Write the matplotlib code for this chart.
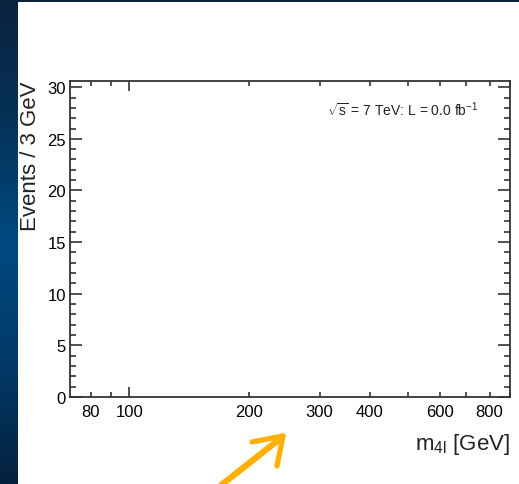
import numpy as np
import matplotlib
matplotlib.use('Agg')
import matplotlib.pyplot as plt
from matplotlib.colors import LinearSegmentedColormap
from matplotlib.lines import Line2D
from matplotlib.ticker import FixedLocator, FixedFormatter, MultipleLocator

plt.rcParams['font.family'] = ['Liberation Sans', 'DejaVu Sans']
plt.rcParams['mathtext.fontset'] = 'custom'
plt.rcParams['mathtext.rm'] = 'Liberation Sans'
plt.rcParams['mathtext.it'] = 'Liberation Sans:italic'
plt.rcParams['mathtext.sf'] = 'Liberation Sans'

# ---- data: empty histogram (no events yet)
m4l_events = []              # no candidates recorded
sqrt_s = 7                   # TeV
lumi = 0.0                   # fb^-1
bin_width = 3                # GeV

x_range = [71, 900]
y_range = [0, 30.6]
x_major = [100]
x_minor = [80, 90, 200, 300, 400, 500, 600, 700, 800, 900]
x_label_vals = [80, 100, 200, 300, 400, 600, 800]
y_major = [0, 5, 10, 15, 20, 25, 30]

W, H = 519, 485
fig = plt.figure(figsize=(W / 100, H / 100), dpi=100, facecolor='white')

# slide background: dark blue strip on the left and thin band on top
bg = fig.add_axes([0, 0, 18 / W, 1])
grad = LinearSegmentedColormap.from_list(
    'slide', ['#0c2340', '#053258', '#004a80', '#023a68', '#04213d'])
bg.imshow(np.linspace(0, 1, 256).reshape(-1, 1), cmap=grad, aspect='auto')
bg.set_axis_off()
top = fig.add_axes([0, 1 - 3 / H, 1, 3 / H])
top.set_facecolor('#0b223d')
top.set_xticks([]); top.set_yticks([])
for s in top.spines.values():
    s.set_visible(False)

ax = fig.add_axes([70 / W, 1 - 398 / H, 440 / W, 316 / H])
if len(m4l_events):
    ax.hist(m4l_events, bins=np.arange(x_range[0], x_range[1], bin_width),
            histtype='step', color='k')
ax.set_xscale('log')
ax.set_xlim(x_range)
ax.set_ylim(y_range)

ax.xaxis.set_major_locator(FixedLocator(x_major))
ax.xaxis.set_minor_locator(FixedLocator(x_minor))
ax.xaxis.set_major_formatter(FixedFormatter([str(v) for v in x_major]))
ax.xaxis.set_minor_formatter(FixedFormatter(
    [str(v) if v in x_label_vals else '' for v in x_minor]))
ax.yaxis.set_major_locator(FixedLocator(y_major))
ax.yaxis.set_minor_locator(MultipleLocator(1))

ax.tick_params(which='both', direction='in', top=True, right=True,
               color='#333333', width=1.2)
ax.tick_params(axis='x', which='major', length=7, labelsize=12, pad=5)
ax.tick_params(axis='x', which='minor', length=3.6, labelsize=12, pad=5)
ax.tick_params(axis='y', which='major', length=8.5, labelsize=12, pad=3)
ax.tick_params(axis='y', which='minor', length=4.5)
for s in ax.spines.values():
    s.set_color('#333333')
    s.set_linewidth(1.3)

ax.set_ylabel(f'Events / {bin_width} GeV', fontsize=16, loc='top',
              color='#222222')
ax.yaxis.set_label_coords(-0.066, 1.0)
ax.set_xlabel(r'm$_{\mathregular{4l}}$ [GeV]', fontsize=16, loc='right',
              color='#222222')
ax.xaxis.set_label_coords(1.0, -0.108)

ax.text(0.584, 0.892,
        r'$\sqrt{\mathregular{s}}$ = %d TeV: L = %.1f fb$^{\mathregular{-1}}$'
        % (sqrt_s, lumi),
        transform=ax.transAxes, fontsize=10, va='baseline', color='#222222')

# hand-drawn orange arrow below the axis
arrow_color = '#ffb000'
strokes = [([215, 281], [491, 439], 4.5),
           ([252, 283], [443, 437], 3.8),
           ([277, 283], [467, 437], 3.8)]
for xs, ys, lw in strokes:
    fig.add_artist(Line2D([x / W for x in xs], [1 - y / H for y in ys],
                          transform=fig.transFigure, color=arrow_color,
                          lw=lw, solid_capstyle='round'))

fig.savefig('out.png', dpi=100, facecolor='white')
